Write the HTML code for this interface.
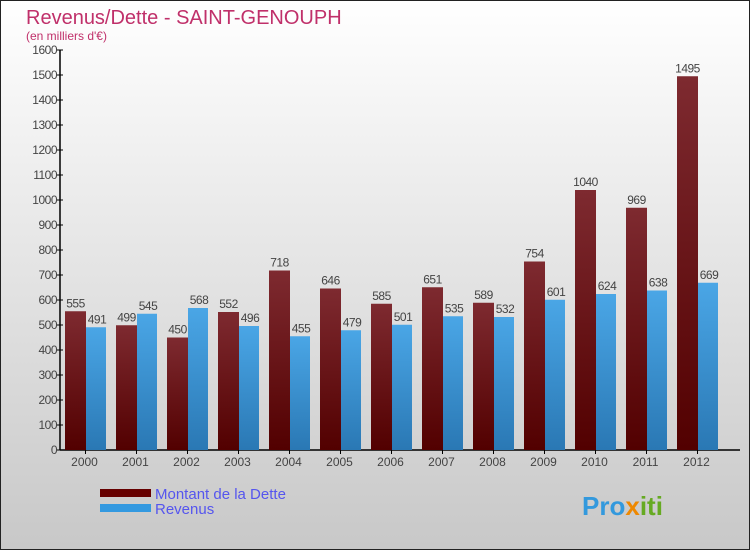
<!DOCTYPE html>
<html><head><meta charset="utf-8"><style>
body{margin:0}
svg text{font-family:"Liberation Sans",sans-serif}
</style></head><body>
<svg id="c" width="750" height="550" xmlns="http://www.w3.org/2000/svg">
<defs>
<linearGradient id="bg" x1="0" y1="0" x2="0" y2="1"><stop offset="0" stop-color="#ffffff"/><stop offset="1" stop-color="#c8c8c8"/></linearGradient>
<linearGradient id="gd" x1="0" y1="0" x2="0" y2="1"><stop offset="0" stop-color="#7e2a30"/><stop offset="1" stop-color="#520000"/></linearGradient>
<linearGradient id="gr" x1="0" y1="0" x2="0" y2="1"><stop offset="0" stop-color="#4aa6e6"/><stop offset="1" stop-color="#2a78b4"/></linearGradient>
</defs>
<rect x="0.5" y="0.5" width="749" height="549" fill="url(#bg)" stroke="#222"/>
<text x="26" y="24" font-size="20" fill="#c0306a">Revenus/Dette - SAINT-GENOUPH</text>
<text x="26" y="40" font-size="12" fill="#c0306a">(en milliers d'€)</text>
<g id="axes"></g>
<g id="bars"></g>
<rect x="100" y="489" width="51" height="8" fill="#660000"/>
<rect x="100" y="504" width="51" height="8" fill="#3399e0"/>
<text x="155" y="499" font-size="15" fill="#5555ee">Montant de la Dette</text>
<text x="155" y="514" font-size="15" fill="#5555ee">Revenus</text>
<text x="582" y="515" font-size="26" font-weight="bold" fill="#3399dd">Pro<tspan fill="#ee8800">x</tspan><tspan fill="#66aa22">iti</tspan></text>
</svg>
<script>
const years=["2000","2001","2002","2003","2004","2005","2006","2007","2008","2009","2010","2011","2012"];
const dette=[555,499,450,552,718,646,585,651,589,754,1040,969,1495];
const revenus=[491,545,568,496,455,479,501,535,532,601,624,638,669];
const yTicks=[0,100,200,300,400,500,600,700,800,900,1000,1100,1200,1300,1400,1500,1600];
const NS="http://www.w3.org/2000/svg";
const y0=450,yTop=50,vmax=1600,x0=60,step=51;
const Y=v=>y0-(v/vmax)*(y0-yTop);
const X=i=>x0+i*step;
function mk(tag,attrs,parent,txt){const e=document.createElementNS(NS,tag);for(const k in attrs)e.setAttribute(k,attrs[k]);if(txt!==undefined)e.textContent=txt;parent.appendChild(e);return e;}
const ax=document.getElementById('axes'),bg=document.getElementById('bars');
let l=mk('line',{x1:x0,y1:yTop,x2:x0,y2:y0,stroke:'#000','stroke-width':1.5},ax);


l=mk('line',{x1:x0,y1:y0,x2:740,y2:y0,stroke:'#000','stroke-width':1.5},ax);


yTicks.forEach(t=>{
 const tk=mk('line',{x1:x0-3,y1:Y(t),x2:x0+3,y2:Y(t),stroke:'#000'},ax);
 
 
 const tx=mk('text',{x:x0-3,y:Y(t)+4,'font-size':12,fill:'#444','text-anchor':'end','letter-spacing':'-0.5'},ax,String(t));
 
 
});
years.forEach((yr,i)=>{
 const bx=X(i);
 const tk=mk('line',{x1:bx+step/2,y1:y0,x2:bx+step/2,y2:y0+4,stroke:'#000'},ax);
 
 
 const tx=mk('text',{x:bx+step/2-1,y:y0+16,'font-size':12,fill:'#444','text-anchor':'middle'},ax,yr);
 
 
 const d=mk('rect',{x:bx+5,y:Y(dette[i]),width:21,height:y0-Y(dette[i]),fill:'url(#gd)'},bg);
 
 
 const r=mk('rect',{x:bx+26,y:Y(revenus[i]),width:20,height:y0-Y(revenus[i]),fill:'url(#gr)'},bg);
 
 
 const dl=mk('text',{x:bx+15.5,y:Y(dette[i])-4,'font-size':12,fill:'#444','text-anchor':'middle','letter-spacing':'-0.5'},bg,String(dette[i]));
 
 
 const rl=mk('text',{x:bx+37,y:Y(revenus[i])-4,'font-size':12,fill:'#444','text-anchor':'middle','letter-spacing':'-0.5'},bg,String(revenus[i]));
 
 
});
</script>
</body></html>
